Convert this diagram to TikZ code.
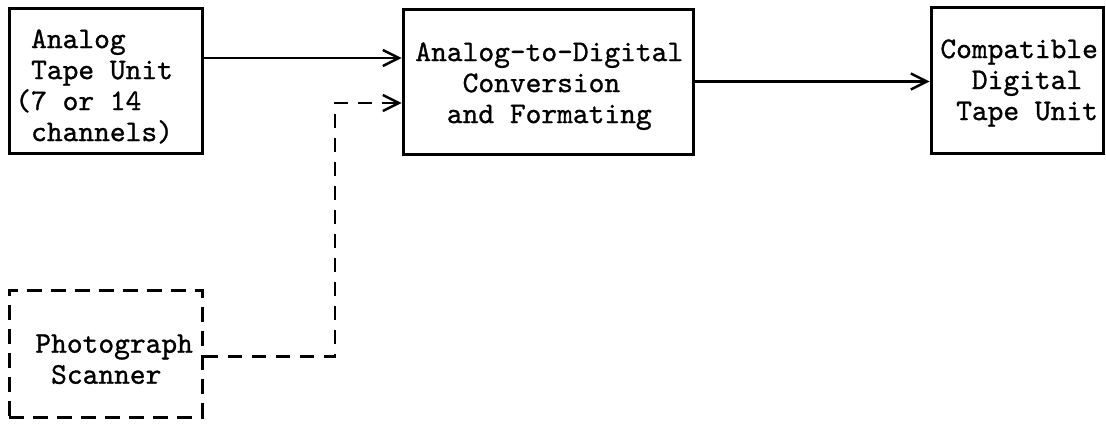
\documentclass[tikz,border=0pt]{standalone}
\usepackage{fontspec}
\setmonofont{lmmono10-regular.otf}[FakeBold=1]
\usetikzlibrary{arrows.meta}
\tikzset{
  blk/.style={draw, line width=1.5pt, inner sep=0pt, rectangle},
  dblk/.style={blk, dash pattern=on 7.5pt off 4.5pt},
  lbl/.style={inner sep=0pt, align=left, font=\fontsize{15}{15.5}\selectfont\ttfamily},
  arr/.style={line width=1.2pt, -{Straight Barb[length=8pt,width=8pt,line width=1.2pt]}},
  darr/.style={arr, dash pattern=on 7pt off 5pt}
}
\begin{document}
\begin{tikzpicture}[x=0.5pt,y=-0.5pt]
\useasboundingbox (0,0) rectangle (1106,423);
% boxes
\node[blk, minimum width=96.5pt, minimum height=72.5pt] (boxA) at (105.5,80.5) {};
\node[blk, minimum width=145pt, minimum height=72.5pt] (boxB) at (548,81.5) {};
\node[blk, minimum width=86.25pt, minimum height=73pt] (boxC) at (1017.25,80) {};
\node[dblk, minimum width=96.5pt, minimum height=63.5pt] (boxD) at (105.5,353.5) {};
% texts
\node[lbl, anchor=north west] (txtA) at (15,29)
  {\hphantom{(}Analog\\\hphantom{(}Tape Unit\\(7 or 14\\\hphantom{(}channels)};
\node[lbl, anchor=north west] (txtB) at (415,42)
  {Analog-to-Digital\\\hphantom{Ana}Conversion\\\hphantom{An}and Formating};
\node[lbl, anchor=north west] (txtC) at (940,39)
  {Compatible\\\hphantom{Co}Digital\\\hphantom{C}Tape Unit};
\node[lbl, anchor=north west] (txtD) at (35,334)
  {Photograph\\\hphantom{P}Scanner};
% connectors
\draw[arr] ([yshift=11.25pt]boxA.east) -- ([yshift=11.25pt]boxA.east -| boxB.west);
\draw[arr] (boxB.east) -- (boxB.east -| boxC.west);
\coordinate (jog) at (335,103);
\draw[darr] ([yshift=-1.5pt]boxD.east) -| (jog) -- (jog -| boxB.west);
\end{tikzpicture}
\end{document}
